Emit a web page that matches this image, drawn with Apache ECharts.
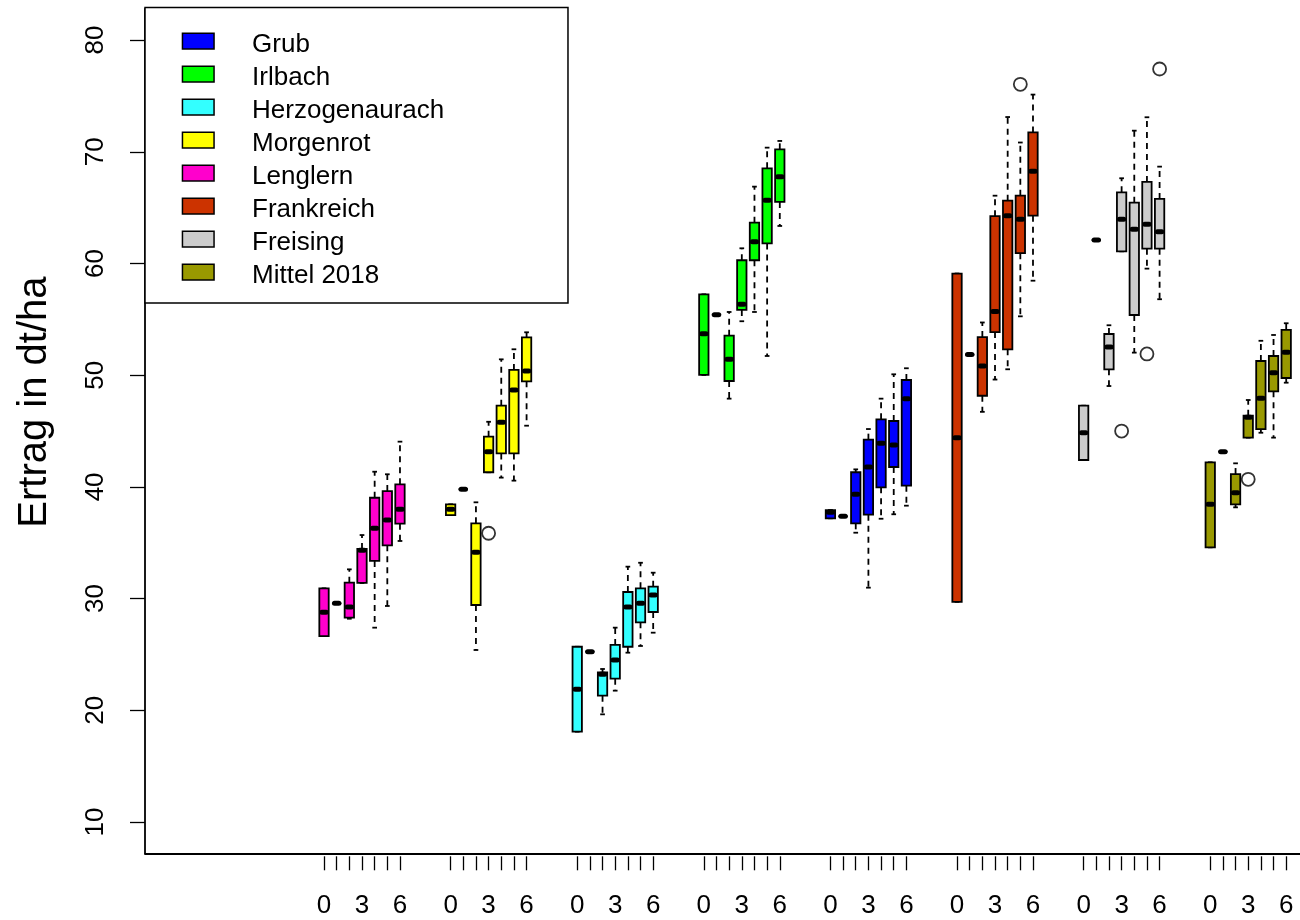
<!DOCTYPE html>
<html><head><meta charset="utf-8">
<script src="https://cdn.jsdelivr.net/npm/echarts@6/dist/echarts.min.js"></script>
<style>html,body{margin:0;padding:0;background:#fff}#c{width:1300px;height:920px}</style>
</head><body><div id="c"></div><script>
// ---------- data ----------
const legendNames = ['Grub', 'Irlbach', 'Herzogenaurach', 'Morgenrot', 'Lenglern', 'Frankreich', 'Freising', 'Mittel 2018'];
const siteColors = ['#0000FF', '#00FF00', '#33FFFF', '#FFFF00', '#FF00CC', '#CC3300', '#CCCCCC', '#999900'];
const groupOrder = ['Lenglern', 'Morgenrot', 'Herzogenaurach', 'Irlbach', 'Grub', 'Frankreich', 'Freising', 'Mittel 2018'];
const timeLabels = ['0', '1', '2', '3', '4', '5', '6'];
const shownTimeLabels = ['0', '3', '6'];
const yTicks = [10, 20, 30, 40, 50, 60, 70, 80];

// box statistics per time step: [lower whisker, Q1, median, Q3, upper whisker]
const lenglern = [
  [26.65, 26.65, 28.77, 30.92, 30.92], [29.58, 29.58, 29.58, 29.58, 29.58], [28.2, 28.29, 29.25, 31.43, 32.62],
  [31.4, 31.4, 34.32, 34.44, 35.69], [27.4, 33.37, 36.29, 39.03, 41.36], [29.34, 34.77, 37.04, 39.63, 41.13],
  [35.16, 36.71, 38.0, 40.23, 44.05]];
const morgenrot = [
  [37.48, 37.48, 38.0, 38.44, 38.44], [39.79, 39.79, 39.79, 39.79, 39.79], [25.4, 29.43, 34.14, 36.74, 38.62],
  [41.31, 41.31, 43.15, 44.5, 45.83], [40.83, 43.0, 45.78, 47.27, 51.42], [40.56, 43.0, 48.68, 50.47, 52.32],
  [45.48, 49.45, 50.38, 53.39, 53.84]];
const herzogenaurach = [
  [18.09, 18.09, 21.88, 25.69, 25.69], [25.25, 25.25, 25.25, 25.25, 25.25], [19.64, 21.31, 23.22, 23.4, 23.7],
  [21.76, 22.83, 24.5, 25.85, 27.4], [25.16, 25.69, 29.25, 30.59, 32.86], [25.76, 27.88, 29.58, 30.92, 33.21],
  [26.95, 28.8, 30.32, 31.07, 32.32]];
const irlbach = [
  [50.02, 50.02, 53.72, 57.24, 57.24], [55.42, 55.42, 55.42, 55.42, 55.42], [47.9, 49.48, 51.42, 53.54, 55.66],
  [54.83, 55.84, 56.35, 60.29, 61.36], [55.66, 60.29, 61.95, 63.65, 66.88], [51.72, 61.8, 65.66, 68.52, 70.37],
  [63.36, 65.51, 67.77, 70.22, 70.97]];
const grub = [
  [37.19, 37.19, 37.73, 37.93, 37.93], [37.37, 37.37, 37.37, 37.37, 37.37], [35.9, 36.74, 39.34, 41.31, 41.57],
  [30.98, 37.51, 41.78, 44.23, 45.18], [37.15, 39.96, 43.9, 46.05, 47.9], [37.55, 41.78, 43.75, 45.9, 50.08],
  [38.32, 40.11, 47.9, 49.57, 50.62]];
const frankreich = [
  [29.71, 29.71, 44.39, 59.1, 59.1], [51.85, 51.85, 51.85, 51.85, 51.85], [46.72, 48.16, 50.82, 53.41, 54.72],
  [49.61, 53.86, 55.71, 64.24, 66.07], [50.53, 52.32, 64.28, 65.62, 73.11], [55.27, 60.92, 63.96, 66.07, 70.83],
  [58.46, 64.28, 68.25, 71.73, 75.12]];
const freising = [
  [42.41, 42.41, 44.85, 47.27, 47.27], [62.1, 62.1, 62.1, 62.1, 62.1], [49.03, 50.53, 52.52, 53.69, 54.47],
  [61.09, 61.09, 63.96, 66.37, 67.63], [52.02, 55.39, 63.06, 65.44, 71.89], [59.54, 61.33, 63.51, 67.3, 73.09],
  [56.8, 61.33, 62.85, 65.78, 68.67]];
const mittel2018 = [
  [34.59, 34.59, 38.44, 42.2, 42.2], [43.15, 43.15, 43.15, 43.15, 43.15], [38.17, 38.44, 39.48, 41.15, 42.11],
  [44.41, 44.41, 46.23, 46.38, 47.78], [44.85, 45.18, 47.93, 51.27, 53.08], [44.41, 48.56, 50.23, 51.72, 53.6],
  [49.33, 49.75, 52.05, 54.05, 54.65]];

// outliers: [site, time index, value]
const outlierSites = ['Morgenrot', 'Frankreich', 'Freising', 'Freising', 'Freising', 'Mittel 2018'];
const outlierTimes = [3, 5, 3, 5, 6, 3];
const outlierValues = [35.85, 76.04, 45.0, 51.9, 77.41, 40.68];

const siteStats = {
  'Lenglern': lenglern, 'Morgenrot': morgenrot, 'Herzogenaurach': herzogenaurach, 'Irlbach': irlbach,
  'Grub': grub, 'Frankreich': frankreich, 'Freising': freising, 'Mittel 2018': mittel2018
};

// ---------- layout helpers ----------
const GROUP_STEP = 10;
const posOf = (site, k) => groupOrder.indexOf(site) * GROUP_STEP + k;
const FONT = '"Liberation Sans", Arial, Helvetica, sans-serif';
const BOX_W = 0.74;
const LW = 1.8;

const allTickPos = [];
const labelPos = [];
groupOrder.forEach((s, g) => timeLabels.forEach((t, k) => {
  allTickPos.push(posOf(s, k));
  if (shownTimeLabels.includes(t)) labelPos.push(posOf(s, k));
}));

function renderBox(params, api) {
  const p = api.value(0);
  const lo = api.value(1), q1 = api.value(2), med = api.value(3), q3 = api.value(4), hi = api.value(5);
  const w = api.size([BOX_W, 0])[0];
  const half = w / 2;
  const cx = api.coord([p, med])[0];
  const Y = v => api.coord([p, v])[1];
  const yLo = Y(lo), yQ1 = Y(q1), yMed = Y(med), yQ3 = Y(q3), yHi = Y(hi);
  const color = api.visual('color');
  const kids = [];
  const dash = { stroke: '#000', lineWidth: LW, lineDash: [6, 5], fill: null };
  const solid = { stroke: '#000', lineWidth: LW, fill: null };
  if (hi > q3) kids.push({ type: 'line', shape: { x1: cx, y1: yQ3, x2: cx, y2: yHi }, style: dash });
  if (lo < q1) kids.push({ type: 'line', shape: { x1: cx, y1: yQ1, x2: cx, y2: yLo }, style: dash });
  kids.push({ type: 'line', shape: { x1: cx - half / 2, y1: yHi, x2: cx + half / 2, y2: yHi }, style: solid });
  kids.push({ type: 'line', shape: { x1: cx - half / 2, y1: yLo, x2: cx + half / 2, y2: yLo }, style: solid });
  kids.push({ type: 'rect', shape: { x: cx - half, y: yQ3, width: w, height: yQ1 - yQ3 },
    style: { fill: color, stroke: '#000', lineWidth: LW } });
  kids.push({ type: 'line', shape: { x1: cx - half + 2.5, y1: yMed, x2: cx + half - 2.5, y2: yMed },
    style: { stroke: '#000', lineWidth: 5, lineCap: 'round', fill: null } });
  return { type: 'group', children: kids };
}

const series = legendNames.map((name, i) => ({
  name: name,
  type: 'custom',
  renderItem: renderBox,
  itemStyle: { color: siteColors[i], borderColor: '#000', borderWidth: 1.5 },
  encode: { x: 0, y: [1, 2, 3, 4, 5] },
  data: siteStats[name].map((st, k) => [posOf(name, k)].concat(st))
}));
series.push({
  name: 'outliers',
  type: 'scatter',
  symbol: 'circle',
  symbolSize: 13,
  itemStyle: { color: '#fff', borderColor: '#000', borderWidth: LW },
  data: outlierValues.map((v, i) => [posOf(outlierSites[i], outlierTimes[i]), v]),
  z: 5
});

const chart = echarts.init(document.getElementById('c'), null, { renderer: 'canvas' });
chart.setOption({
  animation: false,
  backgroundColor: '#fff',
  grid: { left: 145, right: 0, top: 8.8, bottom: 66.7, containLabel: false, outerBoundsMode: 'none' },
  legend: {
    orient: 'vertical', left: 145, top: 7.5, data: legendNames, icon: 'rect',
    itemWidth: 31.6, itemHeight: 15.7, itemGap: 0,
    padding: [17.2, 123.7, 14.3, 36.7],
    borderColor: '#000', borderWidth: 1.5, backgroundColor: '#fff', borderRadius: 0,
    formatter: name => '{n|' + name + '}',
    textStyle: {
      fontSize: 26, fontFamily: FONT, color: '#000', padding: [0, 0, 0, 33],
      rich: { n: { fontSize: 26, fontFamily: FONT, color: '#000', lineHeight: 26, padding: [7, 0, 0, 0] } }
    },
    itemStyle: { borderColor: '#000', borderWidth: 1.5 },
    selectedMode: false
  },
  xAxis: [{
    type: 'value', min: -14.14, max: 77.09, position: 'bottom',
    axisLine: { show: true, onZero: false, lineStyle: { color: '#000', width: LW } },
    axisTick: { show: false }, axisLabel: { show: false }, splitLine: { show: false }
  }, {
    type: 'value', min: -14.14, max: 77.09, position: 'bottom', offset: 3,
    axisLine: { show: false, onZero: false },
    axisTick: { show: true, length: 14, customValues: allTickPos, lineStyle: { color: '#000', width: 1.3 } },
    axisLabel: {
      show: true, customValues: labelPos, margin: 37, fontSize: 26, fontFamily: FONT, color: '#000',
      formatter: v => timeLabels[Math.round(v) % GROUP_STEP]
    },
    splitLine: { show: false }
  }],
  yAxis: {
    type: 'value', min: 7.2, max: 82.8,
    name: 'Ertrag in dt/ha', nameLocation: 'middle', nameGap: 90,
    nameTextStyle: { fontSize: 40, fontFamily: FONT, color: '#000', padding: [0, 0, 0, 58] },
    axisLine: { show: true, onZero: false, lineStyle: { color: '#000', width: LW } },
    axisTick: { show: true, length: 15, customValues: yTicks, lineStyle: { color: '#000', width: 1.3 } },
    axisLabel: { show: true, customValues: yTicks, rotate: 90, margin: 36, fontSize: 26, fontFamily: FONT, color: '#000' },
    splitLine: { show: false }
  },
  series: series
});
</script></body></html>
